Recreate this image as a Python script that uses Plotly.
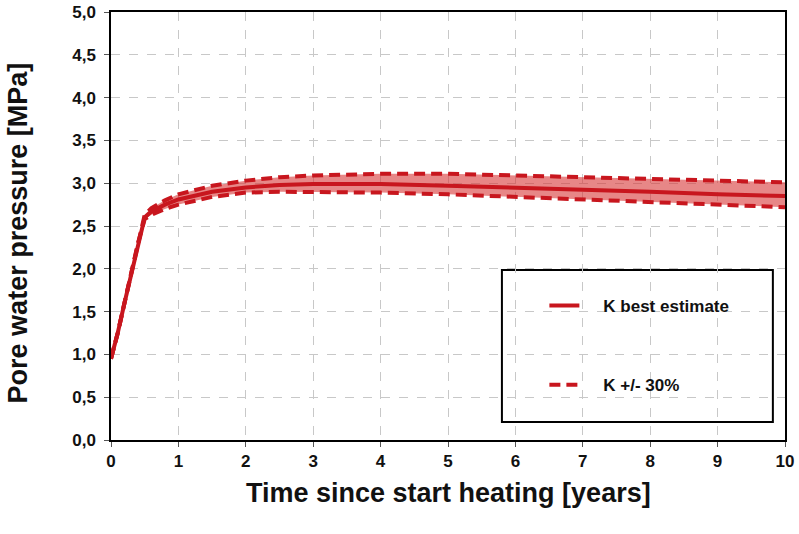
import plotly.graph_objects as go

time = [0, 0.1, 0.2, 0.3, 0.4, 0.5, 0.6, 0.8, 1, 1.5, 2, 2.5, 3, 4, 5, 6, 7, 8, 9, 10]
best = [0.95, 1.25, 1.6, 1.95, 2.3, 2.6, 2.67, 2.75, 2.81, 2.9, 2.95, 2.98, 2.99, 2.99, 2.97, 2.95, 2.92, 2.9, 2.87, 2.85]
upper = [0.95, 1.25, 1.6, 1.95, 2.3, 2.63, 2.71, 2.8, 2.87, 2.97, 3.03, 3.07, 3.09, 3.11, 3.11, 3.09, 3.07, 3.05, 3.03, 3.01]
lower = [0.95, 1.25, 1.6, 1.95, 2.3, 2.58, 2.63, 2.7, 2.75, 2.84, 2.89, 2.9, 2.9, 2.89, 2.87, 2.84, 2.81, 2.78, 2.75, 2.72]

x_ticks = [0, 1, 2, 3, 4, 5, 6, 7, 8, 9, 10]
y_ticks = [0, 0.5, 1.0, 1.5, 2.0, 2.5, 3.0, 3.5, 4.0, 4.5, 5.0]

RED = "#c8161e"
FONT = "Liberation Sans, Arial, sans-serif"
DASH = "11px,6px"
PAD = "&nbsp;" * 4

fig = go.Figure()
fig.add_trace(go.Scatter(x=time, y=lower, mode="lines", name=PAD + "<b>K +/- 30%</b>", legendrank=2,
                         legendgroup="b", line=dict(color=RED, width=4, dash=DASH)))
fig.add_trace(go.Scatter(x=time, y=upper, mode="lines", showlegend=False, legendgroup="b",
                         fill="tonexty", fillcolor="rgba(215,55,55,0.6)",
                         line=dict(color=RED, width=4, dash=DASH)))
fig.add_trace(go.Scatter(x=time, y=best, mode="lines", name=PAD + "<b>K best estimate</b>", legendrank=1,
                         legendgroup="a", line=dict(color=RED, width=4)))

fig.add_shape(type="rect", xref="paper", yref="paper", x0=0.580, x1=0.982, y0=0.042, y1=0.397,
              line=dict(color="black", width=2), fillcolor="white", layer="below")

fig.add_annotation(text="<b>Time since start heating [years]</b>", xref="paper", yref="paper",
                   x=0.5, y=-0.123, xanchor="center", yanchor="middle", showarrow=False,
                   font=dict(size=27, family=FONT, color="#111"))
fig.add_annotation(text="<b>Pore water pressure [MPa]</b>", xref="paper", yref="paper",
                   x=-0.138, y=0.485, xanchor="center", yanchor="middle", showarrow=False, textangle=-90,
                   font=dict(size=27, family=FONT, color="#111"))

fig.update_layout(
    width=799, height=534,
    margin=dict(l=111, r=14, t=12, b=94, autoexpand=False),
    paper_bgcolor="white", plot_bgcolor="white",
    font=dict(family=FONT, color="#111", size=16),
    legend=dict(x=0.643, y=0.355, xanchor="left", yanchor="top", traceorder="grouped",
                tracegroupgap=54, itemwidth=30, bgcolor="rgba(0,0,0,0)",
                font=dict(size=17, family=FONT)),
    xaxis=dict(range=[0, 10], tickvals=x_ticks, ticktext=[f"<b>{v}</b>" for v in x_ticks],
               showline=True, linecolor="black", linewidth=1.5, mirror=True,
               ticks="outside", ticklen=5, tickcolor="#555", automargin=False,
               showgrid=True, gridcolor="#c8c8c8", griddash="dash", gridwidth=1,
               zeroline=False, tickfont=dict(size=17)),
    yaxis=dict(range=[0, 5], tickvals=y_ticks,
               ticktext=[f"<b>{v:.1f}</b>".replace(".", ",") for v in y_ticks],
               showline=True, linecolor="black", linewidth=1.5, mirror=True,
               ticks="outside", ticklen=5, tickcolor="#555", automargin=False,
               ticklabelstandoff=5,
               showgrid=True, gridcolor="#c8c8c8", griddash="dash", gridwidth=1,
               zeroline=False, tickfont=dict(size=17)),
)

fig.write_html("out.html", config={"displayModeBar": False},
               post_script="document.body.style.margin='0px';")
